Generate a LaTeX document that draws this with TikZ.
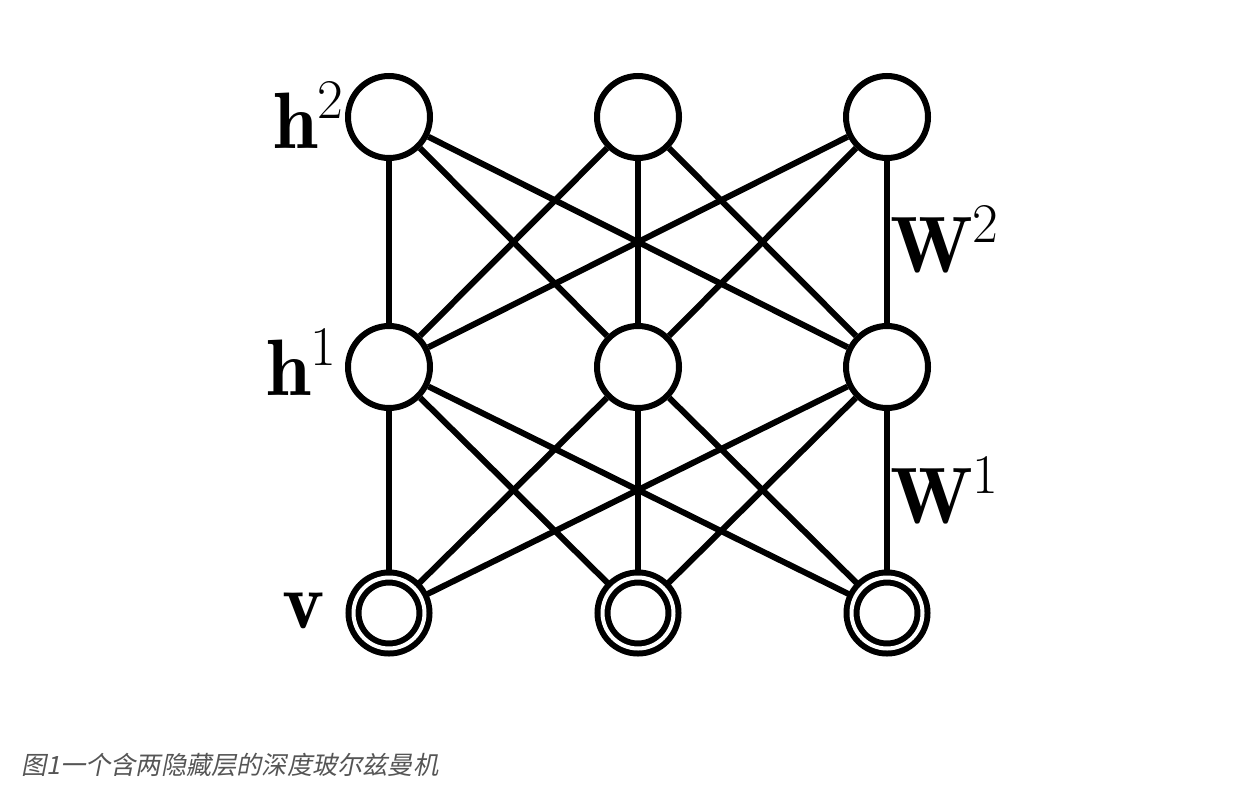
\RequirePackage{fix-cm}
\documentclass[tikz,border=0pt]{standalone}
\usepackage{fontspec}
\newfontfamily\cjk[FakeSlant=0.2]{Noto Sans CJK SC}
\definecolor{capgray}{RGB}{85,85,85}
\begin{document}
\begin{tikzpicture}[x=1pt,y=-1pt,
  unit/.style={circle,draw,line width=6pt,minimum size=82pt,inner sep=0pt,fill=white},
  visible/.style={circle,draw,line width=6pt,double,double distance=4pt,minimum size=71pt,inner sep=0pt},
  link/.style={line width=6pt},
  lab/.style={font=\fontsize{80}{80}\selectfont,inner sep=0pt},
  caption/.style={font=\cjk\fontsize{25.2}{26}\selectfont,text=capgray,inner sep=0pt}]
\useasboundingbox (0,0) rectangle (1260,803);
\node[unit] (t1) at (389,117) {};
\node[unit] (t2) at (638,117) {};
\node[unit] (t3) at (887,117) {};
\node[unit] (m1) at (389,367) {};
\node[unit] (m2) at (638,367) {};
\node[unit] (m3) at (887,367) {};
\node[visible] (b1) at (389,613) {};
\node[visible] (b2) at (638,613) {};
\node[visible] (b3) at (887,613) {};
\foreach \a in {1,2,3} \foreach \b in {1,2,3} {
  \draw[link] (t\a) -- (m\b);
  \draw[link] (m\a) -- (b\b);
}
\node[lab,anchor=base east] (lh2) at (344,148) {$\mathbf{h}^2$};
\node[lab,anchor=base east] (lh1) at (337,395) {$\mathbf{h}^1$};
\node[lab,anchor=base east] (lv) at (325,628) {$\mathbf{v}$};
\node[lab,anchor=base west] (lw2) at (890,272) {$\mathbf{W}^2$};
\node[lab,anchor=base west] (lw1) at (890,523) {$\mathbf{W}^1$};
\node[caption,anchor=west] (cap) at (21,765) {图1一个含两隐藏层的深度玻尔兹曼机};
\end{tikzpicture}
\end{document}
